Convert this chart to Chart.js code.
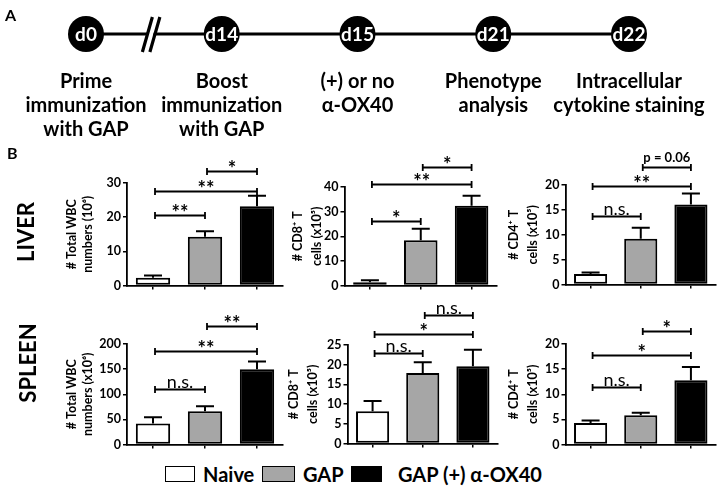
<!DOCTYPE html>
<html><head><meta charset="utf-8">
<script src="https://cdn.jsdelivr.net/npm/chart.js@4.4.0/dist/chart.umd.min.js"></script>
<style>
body{margin:0;background:#fff;width:722px;height:488px;position:relative;overflow:hidden;font-family:Lato,sans-serif}
canvas{position:absolute}
.t{position:absolute;font-weight:bold;color:#000;white-space:nowrap;line-height:1}
.rot{transform:translate(-50%,-50%) rotate(-90deg)}
.box{position:absolute;border:1.8px solid #000;box-sizing:border-box}
</style></head><body>
<canvas id="cA"></canvas>
<canvas id="c1"></canvas><canvas id="c2"></canvas><canvas id="c3"></canvas>
<canvas id="c4"></canvas><canvas id="c5"></canvas><canvas id="c6"></canvas>
<div class="t" style="left:5px;top:7px;font-size:16px">A</div>
<div class="t" style="left:7px;top:145px;font-size:16px">B</div>
<div class="t rot" style="left:26px;top:232px;font-size:22px">LIVER</div>
<div class="t rot" style="left:28px;top:363px;font-size:22px">SPLEEN</div>
<div id="legend"></div>
<script>
// ---------- data ----------
const groups = ["Naive", "GAP", "GAP (+) α-OX40"];
const groupColors = ["#ffffff", "#a6a6a6", "#000000"];
const days = ["d0", "d14", "d15", "d21", "d22"];
const timelineLevel = [0, 0, 0, 0, 0];
const steps = [
  ["Prime", "immunization", "with GAP"],
  ["Boost", "immunization", "with GAP"],
  ["(+) or no", "α-OX40"],
  ["Phenotype", "analysis"],
  ["Intracellular", "cytokine staining"]
];

const liverWbcMean = [2.3, 14.3, 23.2], liverWbcSem = [0.6, 1.6, 3.1];
const liverCd8Mean = [1.3, 18.4, 32.4], liverCd8Sem = [0.8, 4.6, 4.0];
const liverCd4Mean = [2.1, 9.2, 16.1], liverCd4Sem = [0.3, 2.2, 2.2];
const spleenWbcMean = [42, 66, 150], spleenWbcSem = [12, 10, 15];
const spleenCd8Mean = [8.2, 17.9, 19.6], spleenCd8Sem = [2.6, 2.7, 4.2];
const spleenCd4Mean = [4.3, 5.8, 12.8], spleenCd4Sem = [0.5, 0.5, 2.6];

// significance brackets: [group a, group b, level, label]
const liverWbcSig = [[0, 1, 20.5, "**"], [0, 2, 27.7, "**"], [1, 2, 33.5, "*"]];
const liverCd8Sig = [[0, 1, 26.1, "*"], [0, 2, 41.1, "**"], [1, 2, 48.1, "*"]];
const liverCd4Sig = [[0, 1, 13.7, "n.s."], [0, 2, 19.7, "**"], [1, 2, 23.6, "p = 0.06"]];
const spleenWbcSig = [[0, 1, 110, "n.s."], [0, 2, 186, "**"], [1, 2, 236, "**"]];
const spleenCd8Sig = [[0, 1, 22.9, "n.s."], [0, 2, 27.9, "*"], [1, 2, 32.5, "n.s."]];
const spleenCd4Sig = [[0, 1, 11.5, "n.s."], [0, 2, 17.8, "*"], [1, 2, 22.5, "*"]];

// axis ranges [max, step]
const liverWbcAxis = [30, 10], liverCd8Axis = [40, 10], liverCd4Axis = [20, 5];
const spleenWbcAxis = [200, 50], spleenCd8Axis = [25, 5], spleenCd4Axis = [20, 5];

const wbcTitleLiver = ["# Total WBC", "numbers (10⁶)"];
const wbcTitleSpleen = ["# Total WBC", "numbers (x10⁶)"];
const cd8Title = ["# CD8⁺ T", "cells (x10⁵)"];
const cd4Title = ["# CD4⁺ T", "cells (x10⁵)"];

// ---------- layout (pixels) ----------
const FONT = 'Lato';
const L1 = {ax:127, pw:156, ty:183, by:287, t1:72, lh:16, ctop:145};
const L2 = {ax:344, pw:153, ty:187, by:287, t1:297, lh:19, ctop:145};
const L3 = {ax:565, pw:151, ty:185, by:286, t1:513, lh:19, ctop:145};
const L4 = {ax:127, pw:156, ty:344, by:446, t1:72, lh:16, ctop:300};
const L5 = {ax:347, pw:151, ty:345, by:445, t1:293, lh:19, ctop:300};
const L6 = {ax:565, pw:151, ty:344, by:446, t1:513, lh:19, ctop:300};

const sigPlugin = {
  id: 'sig',
  afterDatasetsDraw(chart, args, opts) {
    const ctx = chart.ctx, y = chart.scales.y, meta = chart.getDatasetMeta(0);
    const vals = chart.data.datasets[0].data;
    ctx.save();
    ctx.strokeStyle = '#000'; ctx.lineWidth = 2; ctx.lineCap = 'butt';
    meta.data.forEach((bar, i) => {
      const yb = y.getPixelForValue(vals[i]);
      const yt = y.getPixelForValue(vals[i] + opts.sem[i]);
      ctx.beginPath();
      ctx.moveTo(bar.x, yb); ctx.lineTo(bar.x, yt);
      ctx.moveTo(bar.x - 9, yt); ctx.lineTo(bar.x + 9, yt);
      ctx.stroke();
    });
    ctx.lineWidth = 1.8;
    opts.sig.forEach(([a, b, h, t]) => {
      const x1 = meta.data[a].x + 2, x2 = meta.data[b].x, yy = Math.round(y.getPixelForValue(h)) + 0.5;
      ctx.beginPath();
      ctx.moveTo(x1, yy); ctx.lineTo(x2, yy);
      ctx.moveTo(x1, yy - 3.5); ctx.lineTo(x1, yy + 3.5);
      ctx.moveTo(x2, yy - 3.5); ctx.lineTo(x2, yy + 3.5);
      ctx.stroke();
      ctx.fillStyle = '#000'; ctx.textAlign = 'center'; ctx.textBaseline = 'alphabetic';
      const cx = (x1 + x2) / 2;
      if (t === 'n.s.') { ctx.font = '18px ' + FONT; ctx.fillText(t, cx, yy - 2); }
      else if (t.startsWith('p')) { ctx.font = 'bold 13px ' + FONT; ctx.fillText(t, cx, yy - 6); }
      else { ctx.font = 'bold 20px ' + FONT; ctx.fillText(t, cx, yy + 4); }
    });
    ctx.restore();
  }
};

function barChart(id, L, mean, sem, sig, axis, title) {
  const cv = document.getElementById(id);
  const left = L.t1 - L.lh / 2 - 2;
  const top = L.ctop;
  const w = (L.ax - left) + L.pw + 4;
  const h = (L.by - top) + 8;
  cv.width = w; cv.height = h;
  Object.assign(cv.style, {left: left + 'px', top: top + 'px', width: w + 'px', height: h + 'px'});
  new Chart(cv, {
    type: 'bar',
    data: {labels: groups, datasets: [{data: mean, backgroundColor: groupColors, borderColor: '#000',
      borderWidth: 2, borderSkipped: false, barPercentage: 0.66, categoryPercentage: 1}]},
    options: {
      responsive: false, animation: false, events: [],
      layout: {padding: {top: L.ty - top, left: 0, right: 4, bottom: 0}},
      scales: {
        x: {offset: true,
            grid: {display: true, drawOnChartArea: false, drawTicks: true, tickLength: 4, color: '#000', lineWidth: 1.5, offset: false},
            border: {display: true, color: '#000', width: 1.8},
            ticks: {display: false},
            afterFit: s => { s.height = 8; }},
        y: {min: 0, max: axis[0],
            ticks: {stepSize: axis[1], color: '#000', font: {family: FONT, weight: 'bold', size: 12.5}, padding: 2},
            grid: {drawOnChartArea: false, tickLength: 4, color: '#000', lineWidth: 1.5},
            border: {display: true, color: '#000', width: 1.8},
            title: {display: true, text: title, color: '#000',
                    font: {family: FONT, weight: 'bold', size: 12.5, lineHeight: L.lh + 'px'}, padding: {top: 2, bottom: 0}},
            afterFit: s => { s.width = L.ax - left; }}
      },
      plugins: {legend: {display: false}, tooltip: {enabled: false}, sig: {sem: sem, sig: sig}}
    },
    plugins: [sigPlugin]
  });
}

barChart('c1', L1, liverWbcMean, liverWbcSem, liverWbcSig, liverWbcAxis, wbcTitleLiver);
barChart('c2', L2, liverCd8Mean, liverCd8Sem, liverCd8Sig, liverCd8Axis, cd8Title);
barChart('c3', L3, liverCd4Mean, liverCd4Sem, liverCd4Sig, liverCd4Axis, cd4Title);
barChart('c4', L4, spleenWbcMean, spleenWbcSem, spleenWbcSig, spleenWbcAxis, wbcTitleSpleen);
barChart('c5', L5, spleenCd8Mean, spleenCd8Sem, spleenCd8Sig, spleenCd8Axis, cd8Title);
barChart('c6', L6, spleenCd4Mean, spleenCd4Sem, spleenCd4Sig, spleenCd4Axis, cd4Title);

// ---------- timeline (panel A) ----------
const timelinePlugin = {
  id: 'timeline',
  afterDatasetsDraw(chart) {
    const ctx = chart.ctx, pts = chart.getDatasetMeta(0).data;
    ctx.save();
    const cx = (pts[0].x + pts[1].x) / 2 - 3, cy = pts[0].y;
    ctx.fillStyle = '#fff';
    ctx.beginPath();
    ctx.moveTo(cx - 5, cy + 5); ctx.lineTo(cx + 1, cy + 5); ctx.lineTo(cx + 4, cy - 5); ctx.lineTo(cx - 2, cy - 5);
    ctx.closePath(); ctx.fill();
    ctx.strokeStyle = '#000'; ctx.lineWidth = 3.2;
    ctx.beginPath();
    ctx.moveTo(cx - 8.5, cy + 18); ctx.lineTo(cx + 1.5, cy - 17);
    ctx.moveTo(cx - 1, cy + 18); ctx.lineTo(cx + 9, cy - 17);
    ctx.stroke();
    pts.forEach((p, i) => {
      ctx.fillStyle = '#fff'; ctx.font = 'bold 19px ' + FONT;
      ctx.textAlign = 'center'; ctx.textBaseline = 'middle';
      ctx.fillText(days[i], p.x, p.y + 1);
      ctx.fillStyle = '#000'; ctx.font = 'bold 20px ' + FONT;
      steps[i].forEach((s, k) => ctx.fillText(s, p.x, p.y + 48 + k * 24));
    });
    ctx.restore();
  }
};
(function(){
  const cv = document.getElementById('cA');
  cv.width = 722; cv.height = 140;
  Object.assign(cv.style, {left: '0px', top: '0px', width: '722px', height: '140px'});
  new Chart(cv, {
    type: 'line',
    data: {labels: days, datasets: [{data: timelineLevel, borderColor: '#000', borderWidth: 3,
      pointRadius: 18, pointHoverRadius: 18, pointBackgroundColor: '#000', pointBorderColor: '#000', pointBorderWidth: 0, clip: false}]},
    options: {responsive: false, animation: false, events: [],
      layout: {padding: {left: 86, right: 93, top: 0, bottom: 90}},
      scales: {x: {display: false, offset: false}, y: {display: false, min: -1, max: 1}},
      plugins: {legend: {display: false}, tooltip: {enabled: false}}},
    plugins: [timelinePlugin]
  });
})();

// ---------- legend ----------
(function(){
  const lg = document.getElementById('legend');
  const boxes = [[165, 30], [262, 33], [351, 31]];
  const texts = [203, 303, 398];
  groups.forEach((g, i) => {
    const b = document.createElement('div');
    b.className = 'box';
    Object.assign(b.style, {left: boxes[i][0] + 'px', top: '466px', width: boxes[i][1] + 'px', height: '16px', background: groupColors[i]});
    lg.appendChild(b);
    const t = document.createElement('div');
    t.className = 't';
    Object.assign(t.style, {left: texts[i] + 'px', top: '464px', fontSize: '20px'});
    t.textContent = g;
    lg.appendChild(t);
  });
})();
</script>
</body></html>
